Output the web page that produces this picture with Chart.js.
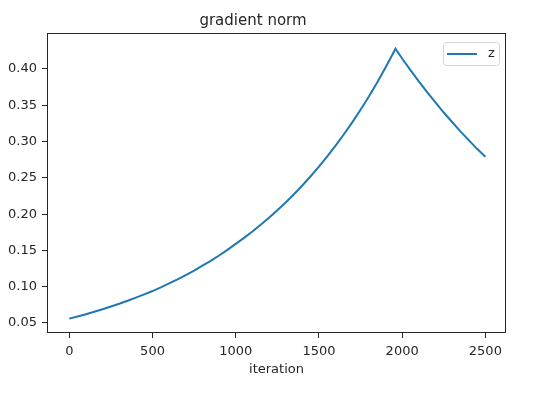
<!DOCTYPE html>
<html>
<head>
<meta charset="utf-8">
<script src="https://cdn.jsdelivr.net/npm/chart.js@4/dist/chart.umd.min.js"></script>
<style>
  html, body { margin: 0; padding: 0; background: #fff; }
  #wrap { width: 540px; height: 393px; position: relative; }
</style>
</head>
<body>
<div id="wrap"><canvas id="c" width="540" height="393"></canvas></div>
<script>
/* gradient norm — line chart */

// iterations and gradient norm
var iterations = [0, 50, 100, 150, 200, 250, 300, 350, 400, 450, 500,
    550, 600, 650, 700, 750, 800, 850, 900, 950, 1000,
    1050, 1100, 1150, 1200, 1250, 1300, 1350, 1400, 1450, 1500,
    1550, 1600, 1650, 1700, 1750, 1800, 1850, 1900, 1930, 1960,
    2000, 2050, 2100, 2150, 2200, 2250, 2300, 2350, 2400, 2450, 2500];
var zValues = [0.056, 0.059, 0.062, 0.0655, 0.069, 0.0727, 0.0765, 0.0806, 0.085, 0.0895, 0.094,
    0.099, 0.1045, 0.110, 0.116, 0.1222, 0.129, 0.1357, 0.143, 0.1507, 0.159,
    0.1673, 0.176, 0.1853, 0.195, 0.2053, 0.216, 0.2275, 0.2395, 0.2522, 0.2655,
    0.2796, 0.2945, 0.3101, 0.3265, 0.3439, 0.362, 0.3813, 0.402, 0.4147, 0.428,
    0.4145, 0.3985, 0.383, 0.368, 0.354, 0.340, 0.327, 0.314, 0.302, 0.290, 0.279];
var xTicks = [0, 500, 1000, 1500, 2000, 2500];
var yTicks = [0.05, 0.10, 0.15, 0.20, 0.25, 0.30, 0.35, 0.40];
var seriesLabel = 'z';

var FONT = 'DejaVu Sans';
var INK = '#262626';
var BLUE = '#1f77b4';

var points = iterations.map(function (x, i) { return { x: x, y: zValues[i] }; });

// frame round the plot + matplotlib style legend in upper right
var framePlugin = {
    id: 'frame',
    afterDraw: function (chart) {
        var ctx = chart.ctx, a = chart.chartArea;
        ctx.save();
        ctx.strokeStyle = INK;
        ctx.lineWidth = 1;
        ctx.strokeRect(a.left + 0.5, a.top + 0.5, a.right - a.left - 1, a.bottom - a.top - 1);

        // legend box
        var bx = a.right - 63, by = a.top + 9, bw = 56, bh = 23;
        ctx.beginPath();
        if (ctx.roundRect) ctx.roundRect(bx + 0.5, by + 0.5, bw, bh, 3);
        else ctx.rect(bx + 0.5, by + 0.5, bw, bh);
        ctx.fillStyle = 'rgba(255,255,255,0.8)';
        ctx.fill();
        ctx.strokeStyle = '#d5d5d5';
        ctx.stroke();

        ctx.beginPath();
        ctx.moveTo(bx + 4, by + 12);
        ctx.lineTo(bx + 34, by + 12);
        ctx.strokeStyle = BLUE;
        ctx.lineWidth = 2;
        ctx.stroke();

        ctx.fillStyle = INK;
        ctx.font = '13px "' + FONT + '"';
        ctx.textBaseline = 'middle';
        ctx.textAlign = 'left';
        ctx.fillText(chart.data.datasets[0].label, bx + 45, by + 12);
        ctx.restore();
    }
};

new Chart(document.getElementById('c'), {
    type: 'line',
    data: {
        datasets: [{
            label: seriesLabel,
            data: points,
            borderColor: BLUE,
            borderWidth: 2,
            pointRadius: 0,
            tension: 0,
            fill: false
        }]
    },
    options: {
        responsive: false,
        animation: false,
        devicePixelRatio: 1,
        layout: { padding: { left: 0, right: 34, top: 0, bottom: 0 } },
        plugins: {
            legend: { display: false },
            tooltip: { enabled: false },
            title: {
                display: true,
                text: 'gradient norm',
                color: INK,
                font: { family: FONT, size: 15, weight: 'normal' },
                padding: { top: 12, bottom: 3 }
            }
        },
        scales: {
            x: {
                type: 'linear',
                min: -134,
                max: 2624,
                afterBuildTicks: function (axis) {
                    axis.ticks = xTicks.map(function (v) { return { value: v }; });
                },
                afterFit: function (axis) { axis.height = 60; },
                grid: { drawOnChartArea: false, drawTicks: true, tickLength: 5, color: INK },
                border: { display: false },
                ticks: {
                    color: INK,
                    padding: 6,
                    maxRotation: 0,
                    font: { family: FONT, size: 13 },
                    callback: function (v) { return String(v); }
                },
                title: {
                    display: true,
                    text: 'iteration',
                    color: INK,
                    font: { family: FONT, size: 13 },
                    padding: { top: 0, bottom: 16 }
                }
            },
            y: {
                type: 'linear',
                min: 0.0362,
                max: 0.4496,
                afterBuildTicks: function (axis) {
                    axis.ticks = yTicks.map(function (v) { return { value: v }; });
                },
                afterFit: function (axis) { axis.width = 47; },
                grid: { drawOnChartArea: false, drawTicks: true, tickLength: 5, color: INK },
                border: { display: false },
                ticks: {
                    color: INK,
                    padding: 5,
                    font: { family: FONT, size: 13 },
                    callback: function (v) { return Number(v).toFixed(2); }
                }
            }
        }
    },
    plugins: [framePlugin]
});
</script>
</body>
</html>
